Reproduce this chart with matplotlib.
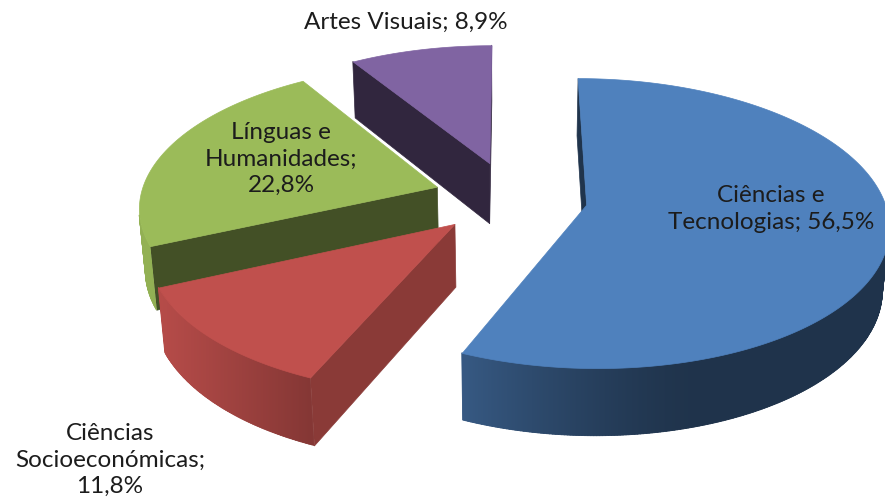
import numpy as np
import matplotlib
matplotlib.use("Agg")
import matplotlib.pyplot as plt
from matplotlib.collections import PolyCollection
from matplotlib.patches import Polygon
from matplotlib.colors import to_rgb

# data
labels = ["Ciências e\nTecnologias; 56,5%",
          "Ciências\nSocioeconómicas;\n11,8%",
          "Línguas e\nHumanidades;\n22,8%",
          "Artes Visuais; 8,9%"]
values = [56.5, 11.8, 22.8, 8.9]
colors = ["#4F81BD", "#C0504D", "#9BBB59", "#8064A2"]
cut_shade = [0.40, 0.72, 0.43, 0.38]          # darkness of the radial cut faces
label_px = [(771, 209), (110, 460), (281, 159), (406, 22)]  # label centres, pixels

# view of the 3d pie
W, H = 885, 504
ELEV = np.radians(30)
DIST = 7.0
THICK = 0.24
EXPLODE = 0.26
SCALE = 292
CX, CY = 510, 259
CAM = np.array([0.0, -DIST * np.cos(ELEV), DIST * np.sin(ELEV)])
LIGHT = np.array([-0.95, -0.3]) / np.hypot(0.95, 0.3)


def project(p):
    x, y, z = p
    w = y * np.sin(ELEV) + z * np.cos(ELEV)
    d = -y * np.cos(ELEV) + z * np.sin(ELEV)
    s = DIST / (DIST - d)
    return (x * s, w * s)


def facing(pts, normal):
    c = np.mean(pts, axis=0)
    return np.dot(normal, CAM - c) > 0


def shade(rgb, f):
    return tuple(min(1, v * f) for v in rgb)


fig = plt.figure(figsize=(W / 100, H / 100), dpi=100)
ax = fig.add_axes([0, 0, 1, 1])
ax.set_xlim(-CX / SCALE, (W - CX) / SCALE)
ax.set_ylim(-(H - CY) / SCALE, CY / SCALE)
ax.axis("off")

fracs = np.array(values) / sum(values)
ends = np.cumsum(fracs) * 2 * np.pi
starts = ends - fracs * 2 * np.pi
mids = (starts + ends) / 2

order = np.argsort(-np.cos(mids))  # back to front
z = 1
for i in order:
    t0, t1, tm = starts[i], ends[i], mids[i]
    ox, oy = EXPLODE * np.sin(tm), EXPLODE * np.cos(tm)
    base = to_rgb(colors[i])
    n = max(4, int(np.degrees(t1 - t0)) * 2)
    ts = np.linspace(t0, t1, n)

    def rim(t, h):
        return np.array([ox + np.sin(t), oy + np.cos(t), h])

    apex_top = np.array([ox, oy, THICK])
    apex_bot = np.array([ox, oy, 0.0])

    # radial cut faces
    polys, cols = [], []
    for t, nrm in [(t0, (-np.cos(t0), np.sin(t0), 0)),
                   (t1, (np.cos(t1), -np.sin(t1), 0))]:
        pts = [apex_top, rim(t, THICK), rim(t, 0), apex_bot]
        if facing(pts, np.array(nrm)):
            polys.append([project(p) for p in pts])
            cols.append(shade(base, cut_shade[i]))
    if polys:
        ax.add_collection(PolyCollection(polys, facecolors=cols, edgecolors=cols,
                                         linewidths=0.5, zorder=z))
    z += 1

    # outer wall: flat segments underneath, smooth gradient image on top
    polys, cols, seg_t = [], [], []
    for ta, tb in zip(ts[:-1], ts[1:]):
        tc = (ta + tb) / 2
        pts = [rim(ta, THICK), rim(tb, THICK), rim(tb, 0), rim(ta, 0)]
        nrm = np.array([np.sin(tc), np.cos(tc), 0])
        if facing(pts, nrm):
            d = max(0, np.dot(nrm[:2], LIGHT))
            polys.append([project(p) for p in pts])
            cols.append(shade(base, 0.40 + 0.55 * d ** 1.5))
            seg_t.append((ta, tb))
    if polys:
        ax.add_collection(PolyCollection(polys, facecolors=cols, edgecolors=cols,
                                         linewidths=0.6, zorder=z))
        z += 1
        t_lo, t_hi = seg_t[0][0], seg_t[-1][1]
        tt = np.linspace(t_lo, t_hi, 200)
        outline = [project(rim(t, THICK)) for t in tt] + \
                  [project(rim(t, 0)) for t in tt[::-1]]
        outline = np.array(outline)
        cx_seg = np.array([np.mean([q[0] for q in p]) for p in polys])
        cols_arr = np.array(cols)
        srt = np.argsort(cx_seg)
        x0, x1 = outline[:, 0].min(), outline[:, 0].max()
        y0, y1 = outline[:, 1].min(), outline[:, 1].max()
        xs = np.linspace(x0, x1, 600)
        grad = np.stack([np.interp(xs, cx_seg[srt], cols_arr[srt, k])
                         for k in range(3)], axis=-1)[None, :, :]
        im = ax.imshow(grad, extent=(x0, x1, y0, y1), aspect="auto",
                       interpolation="bilinear", zorder=z)
        clip = Polygon(outline, closed=True, transform=ax.transData)
        im.set_clip_path(clip)
    z += 1

    # top face
    top = [project(apex_top)] + [project(rim(t, THICK)) for t in ts]
    ax.add_collection(PolyCollection([top], facecolors=[base], edgecolors=[base],
                                     linewidths=0.5, zorder=z))
    z += 1

ax.set_xlim(-CX / SCALE, (W - CX) / SCALE)
ax.set_ylim(-(H - CY) / SCALE, CY / SCALE)

for lab, (px, py) in zip(labels, label_px):
    fig.text(px / W, 1 - py / H, lab, ha="center", va="center",
             multialignment="center", fontsize=17.5, family="Lato",
             color="#1c1c1c", linespacing=1.3, zorder=50)

fig.savefig("out.png", dpi=100)
